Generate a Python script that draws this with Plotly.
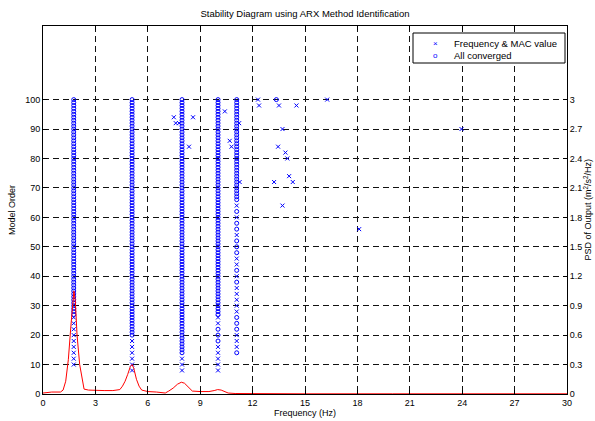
import plotly.graph_objects as go

# ---------------- data ----------------
title_text = "Stability Diagram using ARX Method Identification"
x_title = "Frequency (Hz)"
y_title = "Model Order"
y2_title = "PSD of Output (m<sup>2</sup>/s<sup>2</sup>/Hz)"
legend_names = ["Frequency &amp; MAC value", "All converged"]
x_ticks = [0, 3, 6, 9, 12, 15, 18, 21, 24, 27, 30]
y_ticks = [0, 10, 20, 30, 40, 50, 60, 70, 80, 90, 100]
y2_ticks = [0, 0.3, 0.6, 0.9, 1.2, 1.5, 1.8, 2.1, 2.4, 2.7, 3.0]
y2_labels = ["0", "0.3", "0.6", "0.9", "1.2", "1.5", "1.8", "2.1", "2.4", "2.7", "3"]

# stable columns: frequency (Hz) and model orders
col1_freq = 1.76
col1_conv_orders = list(range(27, 101))
col1_mac_orders = [10, 12, 14, 16, 18, 20, 22, 24, 26]

col2_freq = 5.10
col2_conv_orders = list(range(20, 101))
col2_mac_orders = [8, 10, 12, 14, 16, 18]

col3_freq = 7.96
col3_conv_orders = list(range(14, 101))
col3_mac_orders = [8, 10, 12]

col4_freq = 10.02
col4_conv_orders = [18, 20, 22] + list(range(27, 101))
col4_mac_orders = [8, 10, 12, 14, 16, 24, 26]

col5_freq = 11.09
col5_conv_orders = [14, 22, 24, 26, 38, 42, 48, 50, 52, 56, 58, 62] + list(range(66, 101))
col5_mac_orders = [16, 18, 20, 28, 30, 32, 34, 36, 40, 44, 46, 54, 60, 64]

# scattered (isolated) poles
extra_mac_freq = [7.49, 7.60, 7.79, 8.59, 8.36, 10.41, 10.69, 10.79, 11.26, 11.23,
                  12.31, 12.37, 13.51, 14.51, 16.27, 13.71, 13.46, 13.88, 13.99,
                  14.09, 14.30, 13.23, 13.71, 23.96, 18.10]
extra_mac_order = [94, 92, 92, 94, 84, 96, 86, 84, 72, 92,
                   100, 98, 98, 98, 100, 90, 84, 82, 80,
                   74, 72, 72, 64, 90, 56]
extra_conv_freq = [13.36]
extra_conv_order = [100]

# PSD of output (right axis)
psd_freq = [0, 0.5, 1.0, 1.15, 1.3, 1.45, 1.6, 1.7, 1.77, 1.85,
            1.95, 2.1, 2.25, 2.35, 2.6, 3.0, 3.5, 4.0, 4.4, 4.55,
            4.7, 4.85, 5.0, 5.1, 5.2, 5.35, 5.5, 5.65, 6.0, 6.5,
            6.8, 7.0, 7.2, 7.45, 7.7, 7.92, 8.1, 8.3, 8.55, 9.0,
            9.5, 9.8, 10.0, 10.2, 10.45, 10.6, 11.0, 12.0, 15.0, 20.0,
            25.0, 30.0]
psd_vals = [0.01, 0.02, 0.02, 0.04, 0.13, 0.35, 0.7, 0.95, 1.05, 0.95,
            0.6, 0.3, 0.12, 0.05, 0.04, 0.035, 0.035, 0.035, 0.045, 0.08,
            0.13, 0.2, 0.28, 0.3, 0.26, 0.15, 0.08, 0.04, 0.025, 0.02,
            0.015, 0.01, 0.03, 0.06, 0.1, 0.12, 0.11, 0.07, 0.03, 0.025,
            0.025, 0.035, 0.045, 0.04, 0.02, 0.01, 0.005, 0.003, 0.002, 0.002,
            0.002, 0.002]

# ---------------- assemble ----------------
cols = [
    (col1_freq, col1_conv_orders, col1_mac_orders),
    (col2_freq, col2_conv_orders, col2_mac_orders),
    (col3_freq, col3_conv_orders, col3_mac_orders),
    (col4_freq, col4_conv_orders, col4_mac_orders),
    (col5_freq, col5_conv_orders, col5_mac_orders),
]
mac_f, mac_o, conv_f, conv_o = [], [], [], []
for f, co, mo in cols:
    conv_f += [f] * len(co)
    conv_o += co
    mac_f += [f] * len(mo)
    mac_o += mo
mac_f += extra_mac_freq
mac_o += extra_mac_order
conv_f += extra_conv_freq
conv_o += extra_conv_order

BLUE = "#0000FF"
FONT = "Liberation Sans, Arial, Helvetica, sans-serif"

fig = go.Figure()
fig.add_trace(go.Scatter(
    x=mac_f, y=mac_o, mode="markers", name=legend_names[0], showlegend=False,
    marker=dict(symbol="x-thin-open", size=4, color=BLUE, line=dict(color=BLUE, width=1)),
))
fig.add_trace(go.Scatter(
    x=conv_f, y=conv_o, mode="markers", name=legend_names[1], showlegend=False,
    marker=dict(symbol="circle-open", size=4, color=BLUE, line=dict(color=BLUE, width=1)),
))
fig.add_trace(go.Scatter(
    x=psd_freq, y=psd_vals, mode="lines", yaxis="y2", showlegend=False,
    name="PSD", line=dict(color="#FF0000", width=1),
))

axis_common = dict(showline=True, linecolor="black", linewidth=1, ticks="inside",
                   ticklen=4, tickcolor="black", zeroline=False,
                   tickfont=dict(size=9, color="black", family=FONT))

W, H = 595, 421
L, R, T, B = 43, 28, 26, 27
PW, PH = W - L - R, H - T - B


def px(fx):  # figure x pixel -> paper
    return (fx - L) / PW


def py(fy):  # figure y pixel -> paper
    return 1 - (fy - T) / PH


# compact MATLAB-like legend box (built from shapes and text)
leg_x0, leg_x1, leg_y0, leg_y1 = 413, 565, 33, 63
row_y = [43.5, 55.5]
shapes = [dict(type="rect", xref="paper", yref="paper",
               x0=px(leg_x0), x1=px(leg_x1), y0=py(leg_y1), y1=py(leg_y0),
               line=dict(color="black", width=1), fillcolor="white", layer="above")]
annotations = []
leg_symbols = ["\u00d7", "o"]
leg_sym_size = [8, 8]
for i, name in enumerate(legend_names):
    annotations.append(dict(xref="paper", yref="paper", x=px(435), y=py(row_y[i]),
                            text=leg_symbols[i], showarrow=False, xanchor="center",
                            yanchor="middle",
                            font=dict(size=leg_sym_size[i], color=BLUE, family=FONT)))
    annotations.append(dict(xref="paper", yref="paper", x=px(452), y=py(row_y[i]),
                            text=name, showarrow=False, xanchor="left", yanchor="middle",
                            font=dict(size=9.5, color="black", family=FONT)))

# axis titles placed like the reference
annotations.append(dict(xref="paper", yref="paper", x=px(12), y=0.5, text=y_title,
                        textangle=-90, showarrow=False, xanchor="center", yanchor="middle",
                        font=dict(size=9, color="black", family=FONT)))
annotations.append(dict(xref="paper", yref="paper", x=px(587.5), y=0.5, text=y2_title,
                        textangle=-90, showarrow=False, xanchor="center", yanchor="middle",
                        font=dict(size=9, color="black", family=FONT)))

fig.update_layout(
    width=W, height=H,
    margin=dict(l=L, r=R, t=T, b=B),
    paper_bgcolor="white", plot_bgcolor="white",
    font=dict(family=FONT, size=9, color="black"),
    showlegend=False,
    title=dict(text=title_text, x=0.5, xref="paper", xanchor="center",
               y=1 - 14 / H, yref="container", yanchor="middle",
               font=dict(size=9.5, color="black", family=FONT)),
    xaxis=dict(range=[0, 30], tickvals=x_ticks, mirror="ticks",
               showgrid=True, gridcolor="#111111", gridwidth=1, griddash="6px,4px",
               title=dict(text=x_title, standoff=1, font=dict(size=9)),
               automargin=False, **axis_common),
    yaxis=dict(range=[0, 125], tickvals=y_ticks,
               showgrid=True, gridcolor="#111111", gridwidth=1, griddash="6px,4px",
               automargin=False, **axis_common),
    yaxis2=dict(range=[0, 3.75], tickvals=y2_ticks, ticktext=y2_labels,
                overlaying="y", side="right", showgrid=False,
                automargin=False, **axis_common),
    shapes=shapes,
    annotations=annotations,
)

# remove the browser's default 8px page margin so the figure fills the window
fig.write_html("out.html",
               config={"displayModeBar": False},
               post_script="document.body.style.margin='0';"
                           "document.body.style.overflow='hidden';")
